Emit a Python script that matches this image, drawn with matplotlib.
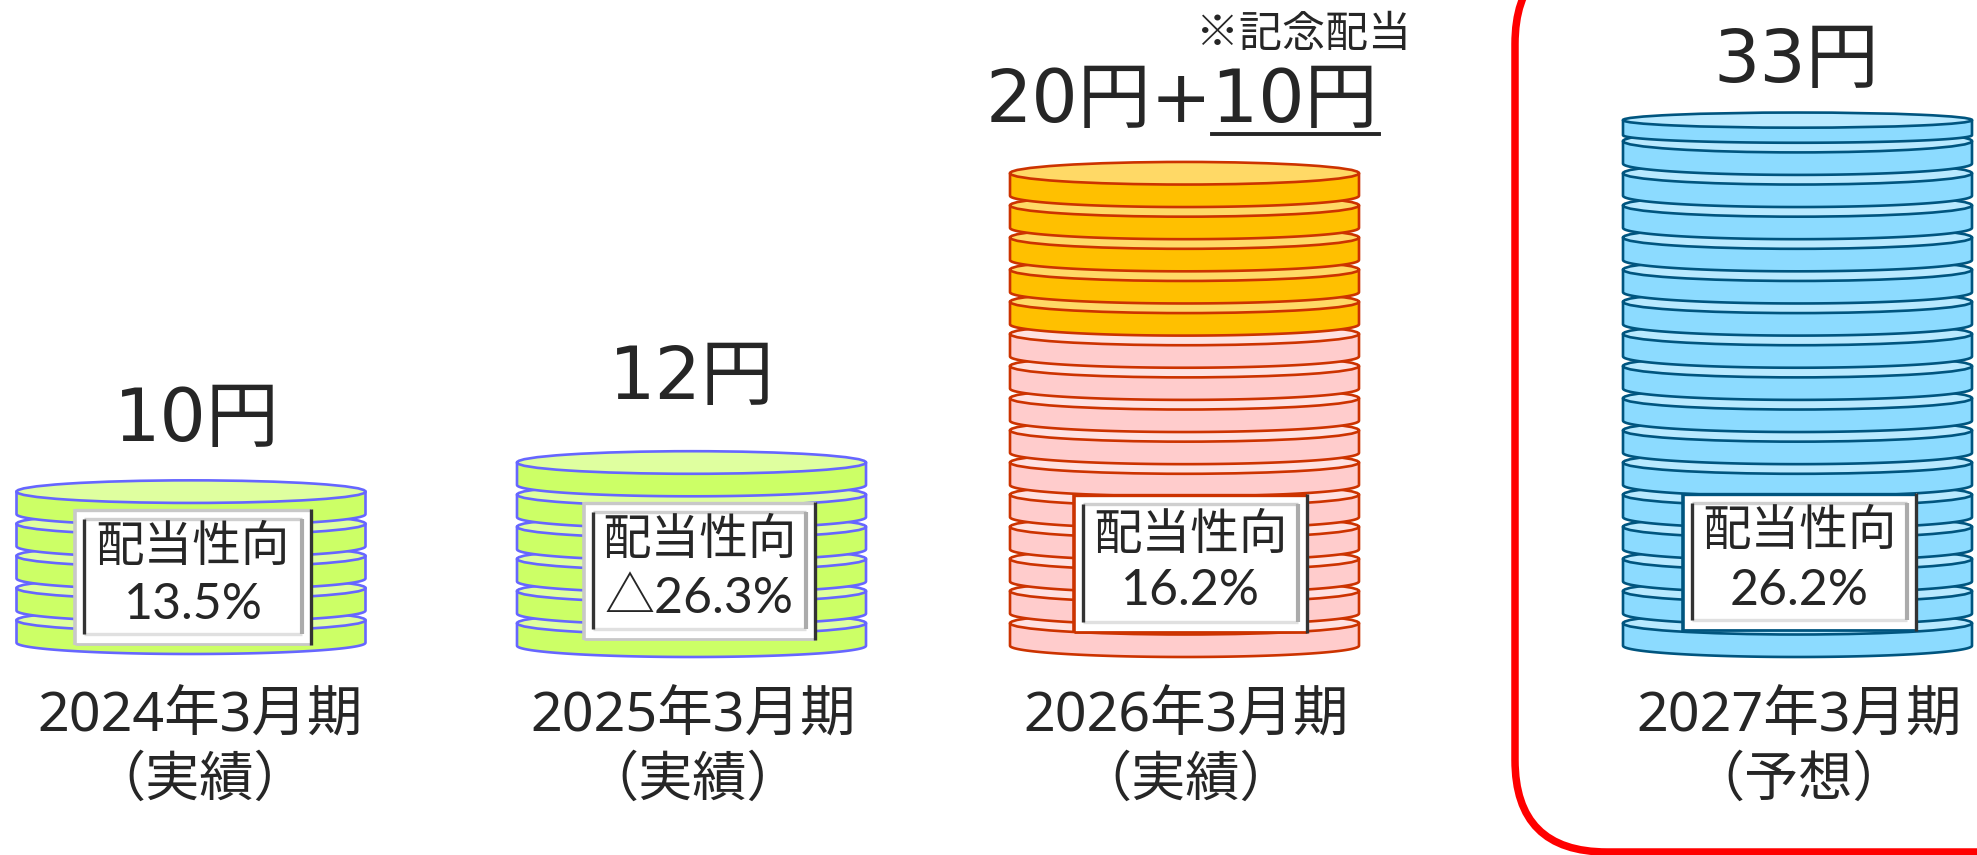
import numpy as np
import matplotlib
matplotlib.use('Agg')
import matplotlib.pyplot as plt
from matplotlib.patches import Ellipse, Polygon, Rectangle, FancyBboxPatch

plt.rcParams['font.family'] = ['Noto Sans CJK JP', 'DejaVu Sans']

# data: dividends per share (one coin = 2 yen)
periods = ['2024年3月期', '2025年3月期', '2026年3月期', '2027年3月期']
status = ['（実績）', '（実績）', '（実績）', '（予想）']
value_labels = ['10円', '12円', '20円+10円', '33円']
payout = ['13.5%', '△26.3%', '16.2%', '26.2%']
regular_yen = [10, 12, 20, 33]
special_yen = [0, 0, 10, 0]

# (side fill, top fill, edge)
green = ('#CCFF66', '#DFFF9F', '#6666FF')
pink = ('#FFCCCC', '#FFE1E1', '#CC3300')
orange = ('#FFC000', '#FFD966', '#CC3300')
blue = ('#8CDBFF', '#B8E9FF', '#00557F')
regular_style = [green, green, pink, blue]
box_rim = ['#C8C8C8', '#C8C8C8', '#CC3300', '#00557F']

# layout, in pixels of the 1977x855 picture
W, H = 1977, 855
stack_x = [191, 691.5, 1184.5, 1797.5]
stack_lift = [3, 0, 0, 0]
base_px = 657
px_per_yen = 16.07
half_w = 174.5
ell_h = 11.3
side_h = 22.5
label_x = [197, 692, 1182, 1796]
label_y = [420, 378, 102, 62]
period_x = [200, 693, 1186, 1799]
box_xy = [(74, 509, 312, 645), (583, 502, 816, 640),
          (1073, 494, 1308, 633), (1682, 493, 1917, 631)]
box_text_y = [(547, 605), (540, 599), (535, 591), (531, 591)]

big_font = ['DejaVu Sans', 'Noto Sans CJK JP']
year_font = ['Noto Sans', 'Noto Sans CJK JP']
pct_font = ['Lato', 'Noto Sans CJK JP']
ink = '#262626'

fig = plt.figure(figsize=(W / 100, H / 100), dpi=100)
fig.patch.set_facecolor('white')

# coins live on a yen axis, everything else on a pixel overlay
ax = fig.add_axes([0, 0, 1, 1])
ax.set_xlim(0, W)
ax.set_ylim((base_px - H) / px_per_yen, base_px / px_per_yen)
ax.axis('off')

ov = fig.add_axes([0, 0, 1, 1])
ov.set_xlim(0, W)
ov.set_ylim(H, 0)
ov.axis('off')
ov.patch.set_alpha(0)


def draw_coin(cx, y0, scale, style, z):
    side, top, edge = style
    eh = ell_h * scale / px_per_yen
    sh = side_h * scale / px_per_yen
    t = np.linspace(np.pi, 2 * np.pi, 80)
    xs = cx + half_w * np.cos(t)
    ys = y0 + eh + eh * np.sin(t)
    pts = np.column_stack([np.r_[cx - half_w, xs, cx + half_w],
                           np.r_[y0 + eh + sh, ys, y0 + eh + sh]])
    ax.add_patch(Polygon(pts, closed=True, fc=side, ec=edge, lw=1.9,
                         joinstyle='round', zorder=z))
    ax.add_patch(Ellipse((cx, y0 + eh + sh), 2 * half_w, 2 * eh, fc=top,
                         ec=edge, lw=1.9, zorder=z + 0.1))


def draw_stack(i):
    y = stack_lift[i] / px_per_yen
    z = 2
    for yen, style in [(regular_yen[i], regular_style[i]), (special_yen[i], orange)]:
        while yen > 0:
            part = 1 if yen >= 2 else 0.67
            draw_coin(stack_x[i], y, part, style, z)
            y += 2
            yen -= 2
            z += 1


def draw_box(x0, y0, x1, y1, rim):
    # bevelled frame: outer rim, white band, inner rim
    ov.add_patch(Rectangle((x0, y0), x1 - x0, y1 - y0, fc='white', ec='none', zorder=5))
    for (a, b), col, lw in [(((x0 + 1, y0 + 1), (x1 - 1, y0 + 1)), rim, 2.4),
                            (((x0 + 1, y1 - 1), (x1 - 1, y1 - 1)), rim, 2.0),
                            (((x0 + 1, y0), (x0 + 1, y1)), rim, 2.6),
                            (((x1 - 1, y0), (x1 - 1, y1)), '#333333', 2.4)]:
        ov.plot([a[0], b[0]], [a[1], b[1]], color=col, lw=lw, solid_capstyle='butt', zorder=6)
    xa, ya, xb, yb = x0 + 10, y0 + 10, x1 - 10, y1 - 11
    for (a, b), col, lw in [(((xa, ya), (xb, ya)), '#CFCFCF', 2.4),
                            (((xa, yb), (xb, yb)), '#E0E0E0', 2.4),
                            (((xb, ya), (xb, yb)), '#ABABAB', 3.0),
                            (((xa, ya), (xa, yb)), '#333333', 2.4)]:
        ov.plot([a[0], b[0]], [a[1], b[1]], color=col, lw=lw, solid_capstyle='butt', zorder=7)


for i in range(4):
    draw_stack(i)
    draw_box(*box_xy[i], box_rim[i])
    tx = (box_xy[i][0] + box_xy[i][2]) / 2
    ov.text(tx, box_text_y[i][0], '配当性向', fontsize=35, color=ink,
            ha='center', va='center', zorder=8)
    ov.text(tx, box_text_y[i][1], payout[i], fontsize=36, color=ink,
            family=pct_font, ha='center', va='center', zorder=8)
    ov.text(label_x[i], label_y[i], value_labels[i], fontsize=52.5, color=ink,
            family=big_font, ha='center', va='center', zorder=8)
    ov.text(period_x[i], 717, periods[i], fontsize=40, color=ink,
            family=year_font, ha='center', va='center', zorder=8)
    ov.text(period_x[i], 780, status[i], fontsize=39, color=ink,
            ha='center', va='center', zorder=8)

# special dividend note
ov.text(1304, 35, '※記念配当', fontsize=31, color=ink, ha='center', va='center', zorder=8)
ov.plot([1212, 1379], [134, 134], color=ink, lw=2.8, zorder=8)

# forecast frame runs off the top and right of the picture
ov.add_patch(FancyBboxPatch((1515, -48), 700, 900, boxstyle='round,pad=0,rounding_size=92',
                            fc='none', ec='#FF0000', lw=5.4, zorder=9))

fig.savefig('out.png', dpi=100)
